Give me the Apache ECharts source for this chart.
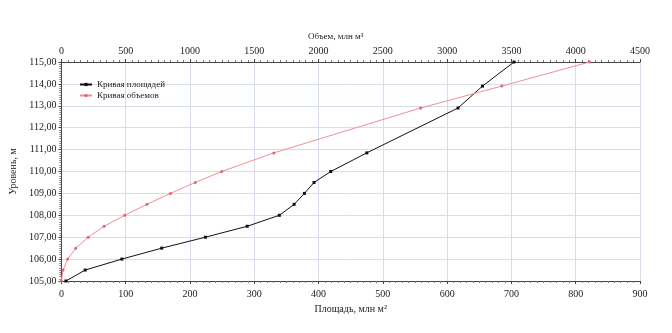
<!DOCTYPE html>
<html>
<head>
<meta charset="utf-8">
<script src="https://cdn.jsdelivr.net/npm/echarts@6/dist/echarts.min.js"></script>
<style>
  html, body { margin: 0; padding: 0; background: #fff; }
  #chart { width: 672px; height: 333px; }
</style>
</head>
<body>
<div id="chart"></div>
<script>
// Reservoir level (m) with the matching surface area and storage volume
const levels  = [105, 105.5, 106, 106.5, 107, 107.5, 108, 108.5, 109, 109.5, 110, 110.85, 112.9, 113.9, 115];
const areas   = [7, 37, 94, 156, 224, 289, 339, 362, 378, 393, 419, 475, 617, 655, 704];        // млн м²
const volumes = [0, 13, 49, 111, 209, 332, 492, 665, 848, 1041, 1247, 1652, 2794, 3425, 4108];  // млн м³

const areaTicks = { min: 0, max: 900, step: 100 };
const volumeTicks = { min: 0, max: 4500, step: 500 };
const levelTicks = { min: 105, max: 115, step: 1 };

const FONT = 'Liberation Serif';
const TEXT = '#222';
const GRID = '#d8dee9';
const AXIS = '#444';

const areaSeries = levels.map((lv, i) => [areas[i], lv]);
const volumeSeries = levels.map((lv, i) => [volumes[i], lv]);

const chart = echarts.init(document.getElementById('chart'), null, { renderer: 'canvas' });

const plain = v => String(v);

const commonAxis = {
  type: 'value',
  axisLine: { show: true, lineStyle: { color: AXIS, width: 1 } },
  axisTick: { show: true, length: 3, lineStyle: { color: AXIS } },
  minorTick: { show: true, splitNumber: 10, length: 2, lineStyle: { color: '#777' } },
  nameTextStyle: { color: TEXT, fontFamily: FONT, fontSize: 10 }
};

chart.setOption({
  animation: false,
  backgroundColor: '#fff',
  grid: { left: 58, right: 32, top: 62, bottom: 52 },
  legend: {
    orient: 'vertical',
    left: 74,
    top: 75,
    itemWidth: 12,
    itemHeight: 4,
    itemGap: 2,
    textStyle: { color: TEXT, fontFamily: FONT, fontSize: 9 },
    data: ['Кривая площадей', 'Кривая объемов']
  },
  xAxis: [
    Object.assign({}, commonAxis, {
      position: 'bottom',
      min: areaTicks.min, max: areaTicks.max, interval: areaTicks.step,
      name: 'Площадь, млн м²',
      nameLocation: 'middle',
      nameGap: 19,
      axisLabel: { color: TEXT, fontFamily: FONT, fontSize: 10, margin: 8, formatter: plain },
      splitLine: { show: true, lineStyle: { color: GRID, width: 1 } }
    }),
    Object.assign({}, commonAxis, {
      position: 'top',
      min: volumeTicks.min, max: volumeTicks.max, interval: volumeTicks.step,
      name: 'Объем, млн м³',
      nameLocation: 'middle',
      nameGap: 16,
      nameTextStyle: { color: TEXT, fontFamily: FONT, fontSize: 9, padding: [0, 30, 0, 0] },
      axisLabel: { color: TEXT, fontFamily: FONT, fontSize: 10, margin: 6, formatter: plain },
      splitLine: { show: false }
    })
  ],
  yAxis: Object.assign({}, commonAxis, {
    min: levelTicks.min, max: levelTicks.max, interval: levelTicks.step,
    name: 'Уровень, м',
    nameLocation: 'middle',
    nameGap: 36,
    axisLabel: {
      color: TEXT, fontFamily: FONT, fontSize: 10, margin: 5,
      formatter: v => v.toFixed(2).replace('.', ',')
    },
    splitLine: { show: true, lineStyle: { color: GRID, width: 1 } }
  }),
  series: [
    {
      name: 'Кривая площадей',
      type: 'line',
      xAxisIndex: 0,
      data: areaSeries,
      symbol: 'rect',
      symbolSize: 3,
      showSymbol: true,
      lineStyle: { color: '#111', width: 1 },
      itemStyle: { color: '#111' }
    },
    {
      name: 'Кривая объемов',
      type: 'line',
      xAxisIndex: 1,
      data: volumeSeries,
      symbol: 'circle',
      symbolSize: 3,
      showSymbol: true,
      lineStyle: { color: '#ec8f98', width: 1 },
      itemStyle: { color: '#e06474' }
    }
  ]
});
</script>
</body>
</html>
